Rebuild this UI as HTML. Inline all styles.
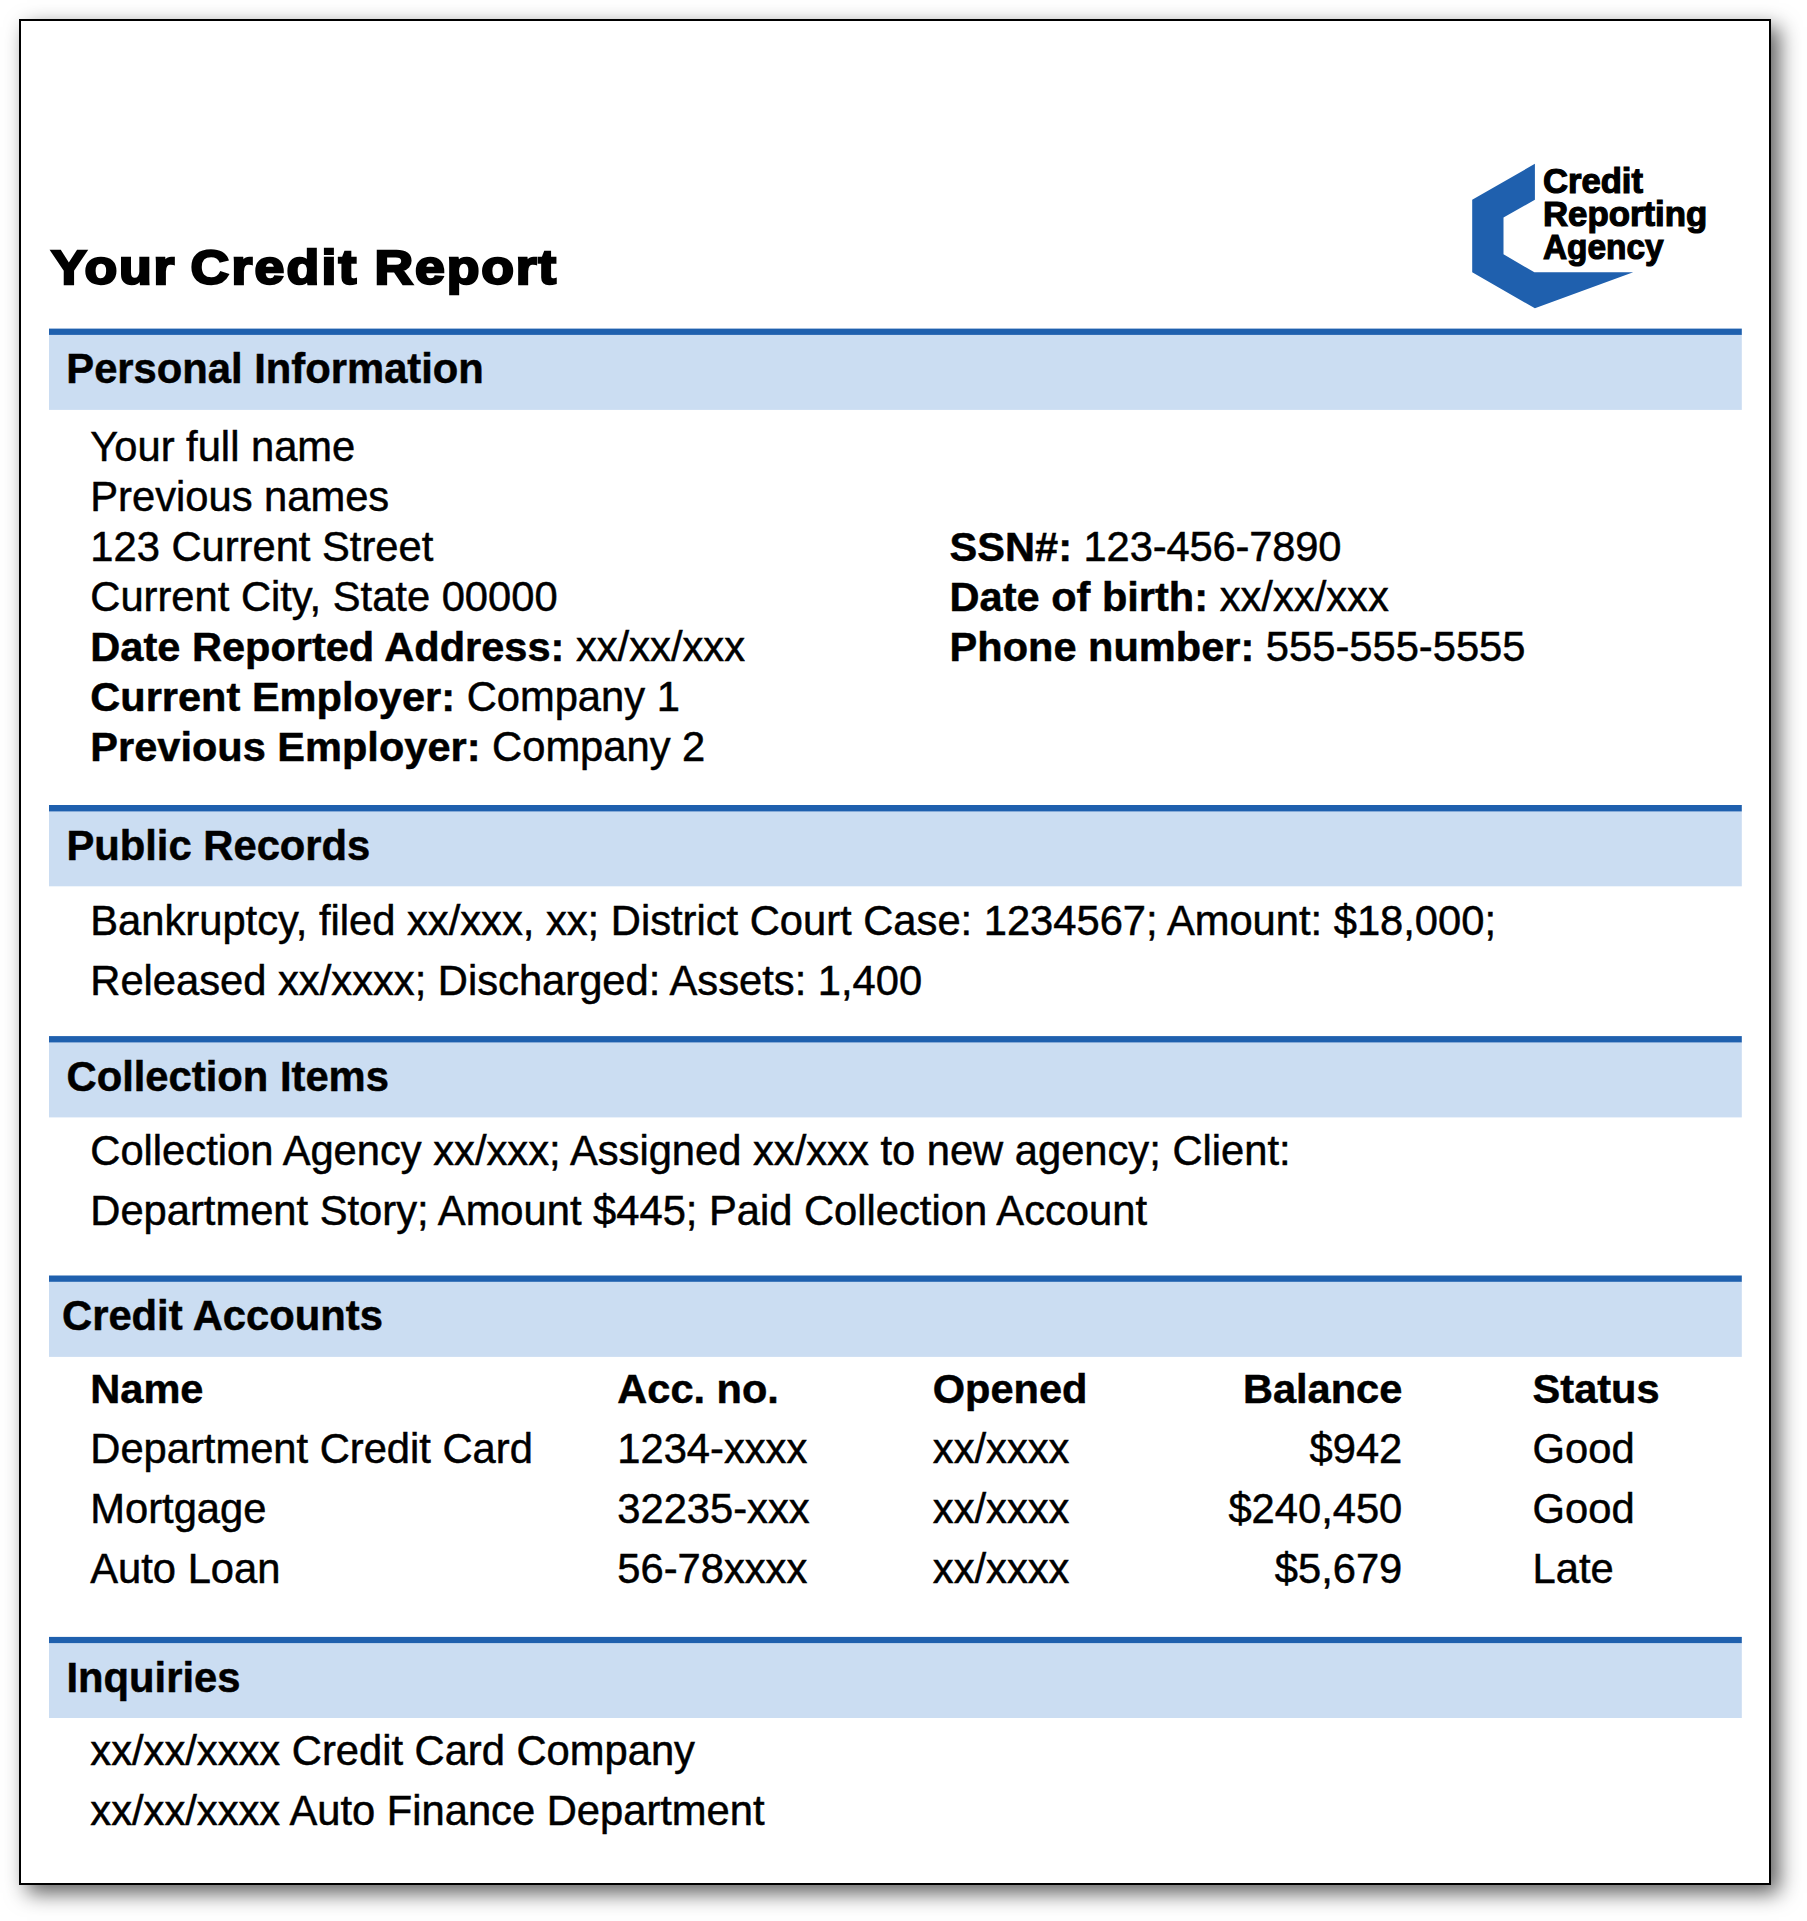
<!DOCTYPE html>
<html lang="en">
<head>
<meta charset="utf-8">
<title>Your Credit Report</title>
<style>
html,body{margin:0;padding:0;background:#fff;}
body{width:1807px;height:1921px;position:relative;overflow:hidden;font-family:"Liberation Sans",Arial,Helvetica,sans-serif;color:#000;}
.page{position:absolute;left:19px;top:19px;width:1748px;height:1862px;border:2px solid #000;background:#fff;box-shadow:8px 8px 20px rgba(0,0,0,0.64);}
.t{position:absolute;margin:0;padding:0;white-space:nowrap;line-height:50px;font-weight:400;font-size:41.7px;-webkit-text-stroke:0.5px #000;paint-order:stroke fill;}
.b{font-weight:700;font-size:41.55px;}
.h{font-weight:700;font-size:41.75px;}
.r{text-align:right;}
b{font-weight:700;font-size:41.55px;}
.gfx{position:absolute;left:0;top:0;}
.title{transform-origin:0 50%;transform:scaleX(1.107);letter-spacing:1.6px;-webkit-text-stroke:2.4px #000;}
.lt{font-weight:700;transform-origin:0 50%;-webkit-text-stroke:1.2px #000;}
</style>
</head>
<body>
<div class="page"></div>
<svg class="gfx" width="1807" height="1921" viewBox="0 0 1807 1921">
<rect x="49" y="334.4" width="1692.8" height="75.5" fill="#cbddf2"/>
<rect x="49" y="328.6" width="1692.8" height="6.3" fill="#1f60ae"/>
<rect x="49" y="810.9" width="1692.8" height="75.4" fill="#cbddf2"/>
<rect x="49" y="805.0" width="1692.8" height="6.4" fill="#1f60ae"/>
<rect x="49" y="1041.9" width="1692.8" height="75.5" fill="#cbddf2"/>
<rect x="49" y="1036.1" width="1692.8" height="6.3" fill="#1f60ae"/>
<rect x="49" y="1281.3" width="1692.8" height="75.6" fill="#cbddf2"/>
<rect x="49" y="1275.5" width="1692.8" height="6.3" fill="#1f60ae"/>
<rect x="49" y="1642.6" width="1692.8" height="75.4" fill="#cbddf2"/>
<rect x="49" y="1636.9" width="1692.8" height="6.2" fill="#1f60ae"/>
<polygon fill="#1f60ae" points="1534.9,163.8 1534.9,199.8 1503.5,217.5 1503.5,254.3 1534.4,272.3 1633.2,272.3 1534.9,308.3 1472.2,272.3 1472.2,199.8"/>
</svg>
<div class="t lt" style="left:1543.2px;top:156px;font-size:35px;transform:scaleX(0.989);">Credit</div>
<div class="t lt" style="left:1542.9px;top:189px;font-size:35px;transform:scaleX(0.994);">Reporting</div>
<div class="t lt" style="left:1543.3px;top:222px;font-size:35px;transform:scaleX(0.954);">Agency</div>
<h1 class="t b title" style="left:51px;top:242px;font-size:48.4px;">Your <span style="margin-left:-2px;letter-spacing:2px">Credit</span><span style="margin-left:-0.6px"> Report</span></h1>
<h2 class="t h" style="left:66.3px;top:344px;">Personal Information</h2>
<p class="t" style="left:90.3px;top:422px;">Your full name</p>
<p class="t" style="left:90.3px;top:472px;">Previous names</p>
<p class="t" style="left:90.3px;top:522px;">123 Current Street</p>
<p class="t" style="left:90.3px;top:572px;">Current City, State 00000</p>
<p class="t" style="left:90.3px;top:622px;"><b>Date Reported Address:</b> xx/xx/xxx</p>
<p class="t" style="left:90.3px;top:672px;"><b>Current Employer:</b> Company 1</p>
<p class="t" style="left:90.3px;top:722px;"><b>Previous Employer:</b> Company 2</p>
<p class="t" style="left:949.6px;top:522px;"><b>SSN#:</b> <span style="letter-spacing:-0.15px">123-456-7890</span></p>
<p class="t" style="left:949.6px;top:572px;"><b>Date of birth:</b> xx/xx/xxx</p>
<p class="t" style="left:949.6px;top:622px;"><b>Phone number:</b> 555-555-5555</p>
<h2 class="t h" style="left:66.4px;top:821px;">Public Records</h2>
<p class="t" style="left:90.3px;top:896px;">Bankruptcy, filed xx/xxx, xx; District Court Case: 1234567; Amount: $18,000;</p>
<p class="t" style="left:90.3px;top:956px;">Released xx/xxxx; Discharged: Assets: 1,400</p>
<h2 class="t h" style="left:66.5px;top:1052px;">Collection Items</h2>
<p class="t" style="left:90.3px;top:1126px;">Collection Agency xx/xxx; Assigned xx/xxx to new agency; Client:</p>
<p class="t" style="left:90.3px;top:1186px;">Department Story; Amount $445; Paid Collection Account</p>
<h2 class="t h" style="left:62.0px;top:1291px;">Credit Accounts</h2>
<p class="t b" style="left:90.3px;top:1364px;">Name</p>
<p class="t b" style="left:617.3px;top:1364px;">Acc. no.</p>
<p class="t b" style="left:932.8px;top:1364px;">Opened</p>
<div class="t r b" style="left:1002.3px;width:400px;top:1364px">Balance</div>
<p class="t b" style="left:1532.6px;top:1364px;">Status</p>
<p class="t" style="left:90.3px;top:1424px;">Department Credit Card</p>
<p class="t" style="left:617.3px;top:1424px;">1234-xxxx</p>
<p class="t" style="left:932.8px;top:1424px;">xx/xxxx</p>
<div class="t r" style="left:1002.3px;width:400px;top:1424px">$942</div>
<p class="t" style="left:1532.6px;top:1424px;">Good</p>
<p class="t" style="left:90.3px;top:1484px;">Mortgage</p>
<p class="t" style="left:617.3px;top:1484px;">32235-xxx</p>
<p class="t" style="left:932.8px;top:1484px;">xx/xxxx</p>
<div class="t r" style="left:1002.3px;width:400px;top:1484px">$240,450</div>
<p class="t" style="left:1532.6px;top:1484px;">Good</p>
<p class="t" style="left:90.3px;top:1544px;">Auto Loan</p>
<p class="t" style="left:617.3px;top:1544px;">56-78xxxx</p>
<p class="t" style="left:932.8px;top:1544px;">xx/xxxx</p>
<div class="t r" style="left:1002.3px;width:400px;top:1544px">$5,679</div>
<p class="t" style="left:1532.6px;top:1544px;">Late</p>
<h2 class="t h" style="left:66.5px;top:1653px;">Inquiries</h2>
<p class="t" style="left:90.3px;top:1726px;">xx/xx/xxxx Credit Card Company</p>
<p class="t" style="left:90.3px;top:1786px;">xx/xx/xxxx Auto Finance Department</p>
</body>
</html>
